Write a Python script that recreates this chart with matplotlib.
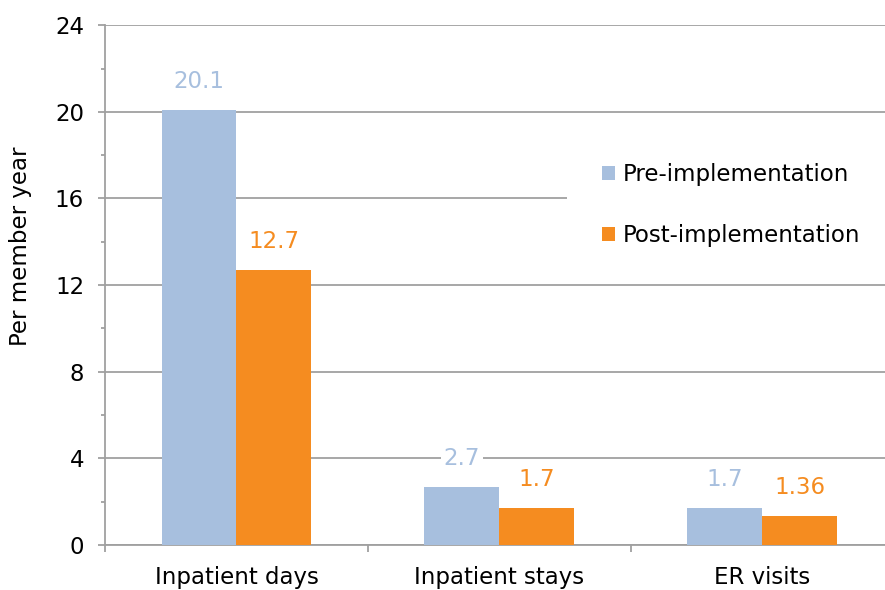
import matplotlib.pyplot as plt
import numpy as np
from matplotlib.ticker import MultipleLocator, FixedLocator

categories = ['Inpatient days', 'Inpatient stays', 'ER visits']
pre_values = [20.1, 2.7, 1.7]
post_values = [12.7, 1.7, 1.36]
pre_labels = ['20.1', '2.7', '1.7']
post_labels = ['12.7', '1.7', '1.36']

pre_color = '#A7BFDE'
post_color = '#F58C20'
grid_color = '#A0A0A0'
fs = 16.5

plt.rcParams['font.family'] = ['DejaVu Sans']

fig = plt.figure(figsize=(8.85, 5.9), dpi=100)
# axes runs a bit past the right edge of the figure, as in the original
ax = fig.add_axes([0.1186, 0.0763, 0.8915, 0.881])

x = np.arange(len(categories))
w = 0.285
ax.bar(x - w / 2, pre_values, w, color=pre_color, zorder=3, label='Pre-implementation')
ax.bar(x + w / 2, post_values, w, color=post_color, zorder=3, label='Post-implementation')

for xi, v, s in zip(x, pre_values, pre_labels):
    ax.annotate(s, (xi - w / 2, v), xytext=(0, 12), textcoords='offset points',
                ha='center', va='bottom', color=pre_color, fontsize=fs,
                bbox=dict(facecolor='white', edgecolor='none', pad=2), zorder=4)
for xi, v, s in zip(x, post_values, post_labels):
    ax.annotate(s, (xi + w / 2, v), xytext=(0, 12), textcoords='offset points',
                ha='center', va='bottom', color=post_color, fontsize=fs,
                bbox=dict(facecolor='white', edgecolor='none', pad=2), zorder=4)

ax.set_xlim(-0.5, 2.5)
ax.set_ylim(0, 24)
ax.yaxis.set_major_locator(MultipleLocator(4))
ax.yaxis.set_minor_locator(MultipleLocator(2))
ax.set_xticks(x)
ax.set_xticklabels(categories, fontsize=fs)
ax.xaxis.set_minor_locator(FixedLocator([-0.5, 0.5, 1.5, 2.5]))
ax.tick_params(axis='x', which='major', length=0, pad=15)
ax.tick_params(axis='x', which='minor', length=5, color=grid_color, width=1.3)
ax.tick_params(axis='y', which='major', length=5, color=grid_color, width=1.3,
               labelsize=fs, pad=10)
ax.tick_params(axis='y', which='minor', length=3, color=grid_color, width=1.3)

ax.grid(axis='y', which='major', color=grid_color, linewidth=1.3, zorder=0)
for side in ['top', 'right']:
    ax.spines[side].set_visible(False)
for side in ['left', 'bottom']:
    ax.spines[side].set_color(grid_color)
    ax.spines[side].set_linewidth(1.3)

ax.set_ylabel('Per member year', fontsize=fs)
ax.yaxis.set_label_coords(-0.0925, 0.575)

leg = ax.legend(loc='center left', bbox_to_anchor=(0.586, 0.654), frameon=True,
                fontsize=fs, handlelength=0.6, handleheight=0.6, handletextpad=0.3,
                labelspacing=1.65, borderpad=1.5, borderaxespad=0)
leg.get_frame().set_facecolor('white')
leg.get_frame().set_edgecolor('none')
leg.get_frame().set_alpha(1)
leg.get_frame().set_boxstyle('square', pad=0)
leg.set_zorder(5)

fig.savefig('out.png', dpi=100)
